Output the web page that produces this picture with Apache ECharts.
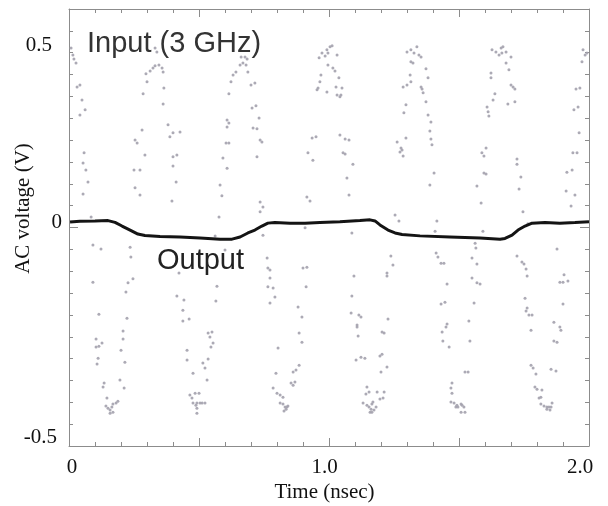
<!DOCTYPE html>
<html>
<head>
<meta charset="utf-8">
<script src="https://cdn.jsdelivr.net/npm/echarts@6/dist/echarts.min.js"></script>
<style>
html,body{margin:0;padding:0;background:#fff;}
#chart{width:608px;height:506px;}
</style>
</head>
<body>
<div id="chart"></div>
<script>
// ---- Data (time in nsec, voltage in V) ----
// Input (3 GHz) sampled points, grouped by cycle
const inputCycle0 = [[.008,.493],[.015,.474],[.019,.463],[.027,.452],[.031,.386],[.042,.391],[.050,.350],[.042,.309],[.062,.323],[.058,.205],[.054,.177],[.065,.158],[.073,.125],[.054,.092],[.085,.029],[.092,-.048],[.123,-.059],[.092,-.150],[.115,-.238],[.104,-.306],[.115,-.326],[.127,-.317],[.104,-.328],[.112,-.359],[.108,-.375],[.135,-.427],[.131,-.438],[.146,-.468],[.142,-.490],[.150,-.496],[.158,-.501],[.165,-.493],[.169,-.485],[.181,-.482],[.188,-.477],[.158,-.510],[.169,-.507],[.196,-.419],[.212,-.441],[.200,-.337],[.208,-.306],[.215,-.370],[.208,-.284],[.223,-.249],[.219,-.177],[.227,-.152],[.246,-.141],[.238,-.081],[.235,-.054]];
const inputCycle1 = [[.250,.158],[.273,.158],[.254,.109],[.273,.089],[.254,.240],[.262,.232],[.281,.268],[.285,.367],[.300,.400],[.296,.422],[.312,.430],[.323,.438],[.331,.444],[.346,.446],[.331,.493],[.338,.482],[.358,.438],[.362,.427],[.365,.383],[.362,.339],[.381,.282],[.388,.249],[.400,.260],[.427,.262],[.400,.194],[.415,.199],[.400,.169],[.412,.125],[.396,.073],[.292,.199],[.423,-.125],[.415,-.188],[.442,-.199],[.438,-.227],[.438,-.257],[.462,-.251],[.454,-.337],[.454,-.364],[.477,-.400],[.465,-.460],[.473,-.468],[.485,-.455],[.500,-.455],[.477,-.482],[.488,-.488],[.492,-.482],[.504,-.482],[.512,-.482],[.523,-.482],[.492,-.510],[.492,-.496],[.531,-.419],[.535,-.361],[.515,-.372],[.523,-.386],[.542,-.301],[.554,-.317],[.546,-.328],[.535,-.290],[.550,-.287],[.565,-.202],[.569,-.161],[.562,-.023],[.600,-.062]];
const inputCycle2 = [[.577,.029],[.588,.087],[.581,.117],[.592,.191],[.608,.163],[.604,.232],[.615,.232],[.608,.276],[.615,.287],[.608,.295],[.615,.367],[.623,.400],[.631,.419],[.642,.427],[.658,.446],[.669,.452],[.681,.446],[.662,.468],[.677,.468],[.685,.463],[.688,.427],[.700,.391],[.715,.397],[.704,.328],[.719,.334],[.708,.273],[.723,.271],[.735,.240],[.742,.235],[.731,.301],[.723,.194],[.735,.070],[.746,.056],[.735,.043],[.746,-.021],[.762,-.084],[.765,-.111],[.773,-.139],[.773,-.117],[.765,-.163],[.785,-.166],[.792,-.191],[.773,-.207],[.804,-.331],[.796,-.400],[.785,-.441],[.800,-.455],[.812,-.460],[.823,-.466],[.812,-.482],[.823,-.485],[.831,-.493],[.838,-.493],[.842,-.490],[.827,-.504],[.835,-.499],[.854,-.427],[.862,-.433],[.869,-.424],[.862,-.397],[.873,-.391],[.885,-.378],[.881,-.218],[.896,-.246],[.885,-.290],[.896,-.315],[.915,-.109],[.900,-.111],[.912,-.163]];
const inputCycle3 = [[.908,-.001],[.915,.084],[.927,.073],[.919,.205],[.938,.185],[.935,.246],[.950,.249],[.962,.466],[.973,.479],[.985,.471],[.992,.488],[.996,.479],[1.004,.496],[1.012,.499],[1.031,.474],[.996,.446],[1.015,.438],[1.023,.430],[.969,.419],[.965,.400],[.954,.378],[.958,.383],[.992,.372],[1.038,.411],[1.027,.386],[1.050,.383],[1.031,.364],[1.042,.359],[1.046,.364],[1.042,.254],[1.062,.243],[1.077,.240],[1.054,.205],[1.062,.202],[1.092,.174],[1.069,.136],[1.077,.089],[1.088,-.015],[1.096,-.133],[1.088,-.188],[1.085,-.235],[1.115,-.240],[1.123,-.246],[1.108,-.268],[1.108,-.273],[1.112,-.298],[1.104,-.364],[1.123,-.356],[1.138,-.359],[1.146,-.438],[1.142,-.457],[1.154,-.452],[1.131,-.482],[1.146,-.488],[1.154,-.493],[1.162,-.499],[1.165,-.485],[1.169,-.479],[1.181,-.493],[1.158,-.507],[1.165,-.507],[1.173,-.501],[1.185,-.452],[1.212,-.452],[1.208,-.468],[1.196,-.471],[1.200,-.397],[1.196,-.353],[1.204,-.348],[1.223,-.383],[1.212,-.290],[1.204,-.287],[1.227,-.251],[1.223,-.133],[1.223,-.125],[1.238,-.078],[1.246,-.103]];
const inputCycle4 = [[1.254,.034],[1.269,.018],[1.273,.207],[1.285,.196],[1.262,.235],[1.277,.218],[1.281,.213],[1.296,.246],[1.296,.337],[1.288,.315],[1.300,.391],[1.285,.386],[1.312,.419],[1.315,.400],[1.323,.452],[1.315,.455],[1.300,.482],[1.315,.488],[1.327,.479],[1.338,.496],[1.346,.474],[1.354,.468],[1.373,.436],[1.354,.386],[1.358,.380],[1.381,.411],[1.362,.370],[1.373,.345],[1.381,.309],[1.392,.290],[1.388,.265],[1.392,.243],[1.396,.227],[1.404,.150],[1.388,.117],[1.415,.018],[1.408,-.010],[1.412,-.070],[1.419,-.081],[1.431,-.098],[1.442,-.098],[1.454,-.155],[1.431,-.210],[1.446,-.205],[1.454,-.265],[1.450,-.273],[1.435,-.287],[1.438,-.312],[1.462,-.328],[1.473,-.427],[1.469,-.441],[1.473,-.455],[1.469,-.479],[1.481,-.482],[1.488,-.493],[1.492,-.488],[1.496,-.493],[1.508,-.485],[1.512,-.488],[1.519,-.493],[1.508,-.507],[1.523,-.507],[1.523,-.397],[1.535,-.397],[1.538,-.257],[1.542,-.312],[1.558,-.207],[1.550,-.139],[1.569,-.152],[1.550,-.084],[1.569,-.100],[1.581,-.155],[1.562,-.043],[1.565,-.056]];
const inputCycle5 = [[1.592,-.010],[1.588,.205],[1.596,.196],[1.596,.150],[1.604,.147],[1.569,.114],[1.585,.067],[1.604,.218],[1.608,.331],[1.612,.318],[1.615,.306],[1.631,.350],[1.638,.367],[1.623,.424],[1.623,.411],[1.627,.488],[1.642,.482],[1.662,.493],[1.669,.496],[1.681,.482],[1.654,.474],[1.665,.479],[1.700,.468],[1.681,.452],[1.692,.433],[1.700,.391],[1.708,.386],[1.715,.380],[1.688,.339],[1.715,.345],[1.723,.188],[1.723,.174],[1.738,.139],[1.731,.106],[1.746,.043],[1.765,.010],[1.723,-.078],[1.742,-.095],[1.750,-.100],[1.758,-.114],[1.762,-.133],[1.754,-.194],[1.762,-.221],[1.758,-.229],[1.769,-.240],[1.781,-.240],[1.777,-.282],[1.777,-.378],[1.785,-.386],[1.796,-.402],[1.792,-.438],[1.800,-.444],[1.819,-.446],[1.815,-.466],[1.808,-.468],[1.815,-.485],[1.827,-.490],[1.838,-.493],[1.846,-.493],[1.854,-.493],[1.838,-.499],[1.850,-.501],[1.858,-.482],[1.854,-.389],[1.873,-.394],[1.865,-.312],[1.877,-.315],[1.888,-.273],[1.892,-.282],[1.865,-.260],[1.900,-.210],[1.888,-.150],[1.900,-.150],[1.919,-.147],[1.904,-.130],[1.877,-.059]];
const inputCycle6 = [[1.938,.205],[1.954,.205],[1.915,.152],[1.935,.158],[1.912,.100],[1.946,.089],[1.931,.059],[1.977,.488],[1.985,.474],[1.992,.479],[1.973,.455],[1.950,.380],[1.965,.383],[1.942,.323],[1.958,.331],[1.962,.260]];

// Output waveform
const outputTime = [0.004,0.042,0.100,0.150,0.177,0.204,0.235,0.265,0.292,0.350,0.427,0.504,0.581,0.627,0.658,0.688,0.715,0.742,0.765,0.792,0.850,0.908,0.965,1.042,1.119,1.158,1.177,1.196,1.227,1.254,1.281,1.350,1.465,1.581,1.658,1.677,1.704,1.727,1.754,1.781,1.831,1.888,1.946,2.000];
const outputVolt = [0.015,0.017,0.018,0.019,0.014,0.004,-0.007,-0.018,-0.022,-0.025,-0.026,-0.029,-0.032,-0.032,-0.026,-0.015,-0.007,0.004,0.012,0.014,0.012,0.012,0.014,0.016,0.019,0.021,0.018,0.007,-0.007,-0.015,-0.019,-0.023,-0.026,-0.029,-0.032,-0.030,-0.021,-0.007,0.004,0.012,0.014,0.012,0.014,0.016];

// Axis ticks and labels
const xMinorTicks = [0,0.1,0.2,0.3,0.4,0.5,0.6,0.7,0.8,0.9,1.0,1.1,1.2,1.3,1.4,1.5,1.6,1.7,1.8,1.9,2.0];
const xMajorTicks = [0,0.5,1.0,1.5,2.0];
const xLabelValues = [0,1.0,2.0];
const xLabelTexts = ['0','1.0','2.0'];
const yMinorTicks = [-0.6,-0.54,-0.48,-0.42,-0.36,-0.3,-0.24,-0.18,-0.12,-0.06,0,0.06,0.12,0.18,0.24,0.3,0.36,0.42,0.48,0.54,0.6];
const yMajorTicks = [0];
const yLabelValues = [0.5,0,-0.577];
const yLabelTexts = ['0.5','0','-0.5'];

const inputData = [].concat(inputCycle0,inputCycle1,inputCycle2,inputCycle3,inputCycle4,inputCycle5,inputCycle6);
const outputData = outputTime.map((t,i)=>[t,outputVolt[i]]);

const frameColor = '#8c8c8c';
const serif = '"Liberation Serif","Times New Roman",serif';
const sans = '"Liberation Sans",Arial,sans-serif';

function xAxisDef(pos, ticks, len, showLine, labels){
  return {
    type:'value', position:pos, min:0, max:2,
    axisLine:{show:showLine, onZero:false, lineStyle:{color:frameColor,width:1}},
    axisTick:{show:true, inside:true, length:len, customValues:ticks, lineStyle:{color:frameColor,width:1}},
    axisLabel: labels ? {
      show:true, customValues:xLabelValues, margin:11,
      fontFamily:serif, fontSize:21, color:'#111',
      formatter:(v)=>{const i=xLabelValues.findIndex(a=>Math.abs(a-v)<1e-6);return i>=0?'{'+['a','b','c'][i]+'|'+xLabelTexts[i]+'}':'';},
      rich:{
        a:{fontFamily:serif,fontSize:21,color:'#111',padding:[0,0,0,6]},
        b:{fontFamily:serif,fontSize:21,color:'#111',padding:[0,9,0,0]},
        c:{fontFamily:serif,fontSize:21,color:'#111',padding:[0,18,0,0]}
      }
    } : {show:false},
    splitLine:{show:false}
  };
}
function yAxisDef(pos, ticks, len, showLine, labels){
  return {
    type:'value', position:pos, min:-0.6, max:0.6,
    axisLine:{show:showLine, onZero:false, lineStyle:{color:frameColor,width:1}},
    axisTick:{show:true, inside:true, length:len, customValues:ticks, lineStyle:{color:frameColor,width:1}},
    axisLabel: labels ? {
      show:true, customValues:yLabelValues, margin:7,
      formatter:(v)=>{const i=yLabelValues.findIndex(a=>Math.abs(a-v)<1e-6);return i>=0?'{'+['p','z','m'][i]+'|'+yLabelTexts[i]+'}':'';},
      rich:{
        p:{fontFamily:serif,fontSize:21,color:'#111',padding:[0,10,0,0]},
        z:{fontFamily:serif,fontSize:21,color:'#111',padding:[0,0,10,0]},
        m:{fontFamily:serif,fontSize:21,color:'#111',padding:[0,5,0,0]}
      }
    } : {show:false},
    splitLine:{show:false}
  };
}

const chart = echarts.init(document.getElementById('chart'), null, {renderer:'canvas'});
const xa0 = xAxisDef('bottom', xMinorTicks, 4, true, true);
xa0.name = 'Time (nsec)';
xa0.nameLocation = 'middle';
xa0.nameGap = 36;
xa0.nameMoveOverlap = false;
xa0.nameTextStyle = {fontFamily:serif, fontSize:21, color:'#111', padding:[0,9,0,0]};
const ya0 = yAxisDef('left', yMinorTicks, 4, true, true);
ya0.name = 'AC voltage (V)';
ya0.nameLocation = 'middle';
ya0.nameGap = 35;
ya0.nameMoveOverlap = false;
ya0.nameTextStyle = {fontFamily:serif, fontSize:21, color:'#111', padding:[0,0,0,38]};

chart.setOption({
  animation:false,
  backgroundColor:'#fff',
  grid:{left:69, right:19, top:9, bottom:60, containLabel:false, outerBoundsMode:'none'},
  xAxis:[
    xa0,
    xAxisDef('bottom', xMajorTicks, 8, false, false),
    xAxisDef('top', xMinorTicks, 4, true, false),
    xAxisDef('top', xMajorTicks, 8, false, false)
  ],
  yAxis:[
    ya0,
    yAxisDef('left', yMajorTicks, 9, false, false),
    yAxisDef('right', yMinorTicks, 4, true, false),
    yAxisDef('right', yMajorTicks, 9, false, false)
  ],
  series:[
    {
      type:'scatter', name:'Input', data:inputData,
      symbol:'circle', symbolSize:3,
      itemStyle:{color:'#a3a1ad', opacity:0.9},
      silent:true, z:2
    },
    {
      type:'line', name:'Output', data:outputData,
      showSymbol:false, symbol:'none',
      lineStyle:{color:'#141414', width:3},
      silent:true, z:3
    }
  ],
  graphic:[
    {type:'text', x:87, y:44, z:10, style:{text:'Input (3 GHz)', font:'29px '+sans, fill:'#333', align:'left', verticalAlign:'middle'}},
    {type:'text', x:157, y:261, z:10, style:{text:'Output', font:'29px '+sans, fill:'#222', align:'left', verticalAlign:'middle'}}
  ]
});
</script>
</body>
</html>
